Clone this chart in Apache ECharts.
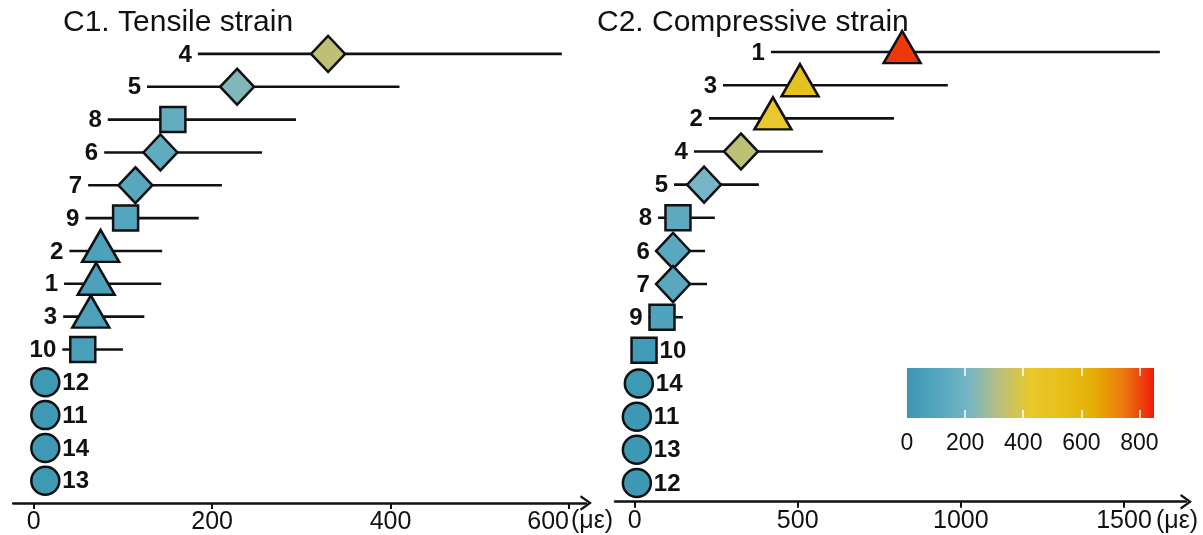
<!DOCTYPE html>
<html>
<head>
<meta charset="utf-8">
<script src="https://cdn.jsdelivr.net/npm/echarts@6/dist/echarts.min.js"></script>
<style>
  html, body { margin: 0; padding: 0; background: #ffffff; }
  #chart { width: 1203px; height: 535px; }
</style>
</head>
<body>
<div id="chart"></div>
<script>
// C1 – tensile strain per group (με), listed top to bottom
const tensileGroups = ['4', '5', '8', '6', '7', '9', '2', '1', '3', '10', '12', '11', '14', '13'];
const tensileMean   = [330, 228, 156, 142, 114, 103, 75, 70, 64, 55, 13, 13, 13, 13];
const tensileLow    = [184, 127, 83, 79, 61, 58, 40, 34, 33, 32, 0, 0, 0, 0];
const tensileHigh   = [592, 410, 294, 256, 211, 185, 144, 143, 124, 100, 24, 24, 24, 24];

// C2 – compressive strain per group (με), listed top to bottom
const compressGroups = ['1', '3', '2', '4', '5', '8', '6', '7', '9', '10', '14', '11', '13', '12'];
const compressMean   = [820, 507, 424, 326, 213, 133, 118, 118, 84, 29, 13, 7, 7, 7];
const compressLow    = [418, 271, 228, 182, 121, 72, 65, 65, 43, 0, 0, 0, 0, 0];
const compressHigh   = [1610, 960, 795, 577, 381, 246, 216, 222, 148, 62, 40, 35, 35, 35];

// Axis tick labels
const tensileTicks  = [0, 200, 400, 600];
const compressTicks = [0, 500, 1000, 1500];
const colorTicks    = [0, 200, 400, 600, 800];
const colorMax      = 850;
const unitLabel     = '(με)';

// Marker shape used for each group
const groupShape = {
  '1': 'triangle', '2': 'triangle', '3': 'triangle',
  '4': 'diamond', '5': 'diamond', '6': 'diamond', '7': 'diamond',
  '8': 'square', '9': 'square', '10': 'square',
  '11': 'circle', '12': 'circle', '13': 'circle', '14': 'circle'
};

// ---- styles ----
const FONT = '"Liberation Sans", Arial, Helvetica, sans-serif';
const INK = '#111111';
const SHAPES = {
  triangle: { symbol: 'triangle', size: [37, 32], offset: [0, -5], half: 18 },
  diamond:  { symbol: 'diamond',  size: [34, 36], offset: [0, 0],  half: 17 },
  square:   { symbol: 'rect',     size: [25, 25], offset: [0, 0],  half: 12.5 },
  circle:   { symbol: 'circle',   size: [28, 28], offset: [0, 0],  half: 14 }
};
const PALETTE = ['#3b97b3', '#55a6be', '#75b5c5', '#b9c07c', '#e8c82b',
                 '#e7bf1a', '#e5b005', '#ec7a0c', '#f01c0c'];
const ARROW = 'path://M0,14 L10,0 L20,14 L17.4,15.6 L10,4.8 L2.6,15.6 Z';

function strainAxis(gridIndex, min, max, ticks, offset, lastAlign) {
  return {
    type: 'value', gridIndex, min, max, offset,
    axisLine: {
      show: true, onZero: false,
      lineStyle: { color: INK, width: 2.5 },
      symbol: ['none', ARROW], symbolSize: [18, 12]
    },
    axisTick: { show: true, customValues: ticks, length: 6, lineStyle: { color: INK, width: 2 } },
    axisLabel: {
      customValues: ticks, fontSize: 25, margin: 7, color: INK, fontFamily: FONT,
      alignMaxLabel: lastAlign,
      formatter: v => String(v)
    },
    splitLine: { show: false }
  };
}

function groupAxis(gridIndex, groups) {
  return {
    type: 'category', gridIndex, data: groups, inverse: true,
    axisLine: { show: false }, axisTick: { show: false }, axisLabel: { show: false }, splitLine: { show: false }
  };
}

// whisker line plus group number for each row
function whiskerSeries(axisIndex, groups, mean, low, high) {
  return {
    type: 'custom', xAxisIndex: axisIndex, yAxisIndex: axisIndex, z: 2, silent: true,
    encode: { x: [0, 1, 3], y: 2 },
    data: groups.map((g, i) => [low[i], high[i], i, mean[i]]),
    renderItem(params, api) {
      const row = api.value(2);
      const lo = api.value(0), hi = api.value(1);
      const p0 = api.coord([lo, row]);
      const p1 = api.coord([hi, row]);
      const pm = api.coord([api.value(3), row]);
      const g = groups[row];
      const shape = SHAPES[groupShape[g]];
      const labelRight = lo <= 0;
      const children = [];
      if (hi > lo) {
        children.push({
          type: 'line',
          shape: { x1: p0[0], y1: p0[1], x2: p1[0], y2: p1[1] },
          style: { stroke: INK, lineWidth: 2.6 }
        });
      }
      children.push({
        type: 'text',
        style: {
          text: g,
          x: labelRight ? pm[0] + shape.half + 3 : p0[0] - 6,
          y: p0[1] + 1,
          align: labelRight ? 'left' : 'right',
          verticalAlign: 'middle',
          font: 'bold 24px ' + FONT,
          fill: INK
        }
      });
      return { type: 'group', children };
    }
  };
}

function markerSeries(axisIndex, groups, mean) {
  return {
    type: 'scatter', xAxisIndex: axisIndex, yAxisIndex: axisIndex, z: 3, silent: true,
    emphasis: { disabled: true },
    itemStyle: { borderColor: INK, borderWidth: 2.5, opacity: 1 },
    data: groups.map((g, i) => {
      const s = SHAPES[groupShape[g]];
      return { value: [mean[i], i], symbol: s.symbol, symbolSize: s.size, symbolOffset: s.offset };
    })
  };
}

const scaleGradient = new echarts.graphic.LinearGradient(0, 0, 1, 0,
  PALETTE.map((c, k) => ({ offset: k / (PALETTE.length - 1), color: c })));

const unitStyle = { text: unitLabel, fontSize: 25, fontFamily: FONT, fill: INK };

const chart = echarts.init(document.getElementById('chart'), null, { renderer: 'canvas' });
chart.setOption({
  animation: false,
  backgroundColor: '#ffffff',
  title: [
    { text: 'C1. Tensile strain', left: 63, top: 8, padding: 0,
      textStyle: { fontSize: 30, fontWeight: 'normal', color: INK, fontFamily: FONT } },
    { text: 'C2. Compressive strain', left: 597, top: 8, padding: 0,
      textStyle: { fontSize: 30, fontWeight: 'normal', color: INK, fontFamily: FONT } }
  ],
  grid: [
    { left: 13.2, width: 572.7, top: 37.5, height: 460 },
    { left: 615, width: 571, top: 35.5, height: 464 },
    { left: 907, width: 247, top: 368, height: 50 }
  ],
  xAxis: [
    strainAxis(0, -23, 619, tensileTicks, 5.8, 'right'),
    strainAxis(1, -60, 1690, compressTicks, 2.2, null),
    {
      type: 'value', gridIndex: 2, min: 0, max: colorMax, position: 'bottom', z: 10,
      axisLine: { show: false },
      axisTick: { show: true, inside: true, customValues: [200, 400, 600, 800], length: 8,
                  lineStyle: { color: '#ffffff', width: 1.5 } },
      axisLabel: { customValues: colorTicks, fontSize: 23, margin: 14, color: INK, fontFamily: FONT },
      splitLine: { show: false }
    },
    {
      type: 'value', gridIndex: 2, min: 0, max: colorMax, position: 'top', z: 10,
      axisLine: { show: false },
      axisTick: { show: true, inside: true, customValues: [200, 400, 600, 800], length: 8,
                  lineStyle: { color: '#ffffff', width: 1.5 } },
      axisLabel: { show: false },
      splitLine: { show: false }
    }
  ],
  yAxis: [
    groupAxis(0, tensileGroups),
    groupAxis(1, compressGroups),
    { type: 'category', gridIndex: 2, data: ['scale'], show: false }
  ],
  visualMap: {
    type: 'continuous', show: false, min: 0, max: colorMax, dimension: 0,
    seriesIndex: [1, 3], inRange: { color: PALETTE }
  },
  graphic: [
    { type: 'text', left: 571, top: 509, style: unitStyle },
    { type: 'text', left: 1156, top: 509, style: unitStyle }
  ],
  series: [
    whiskerSeries(0, tensileGroups, tensileMean, tensileLow, tensileHigh),
    markerSeries(0, tensileGroups, tensileMean),
    whiskerSeries(1, compressGroups, compressMean, compressLow, compressHigh),
    markerSeries(1, compressGroups, compressMean),
    {
      type: 'bar', xAxisIndex: 2, yAxisIndex: 2, barWidth: '100%', silent: true, z: 1,
      itemStyle: { color: scaleGradient },
      data: [colorMax]
    }
  ]
});
</script>
</body>
</html>
